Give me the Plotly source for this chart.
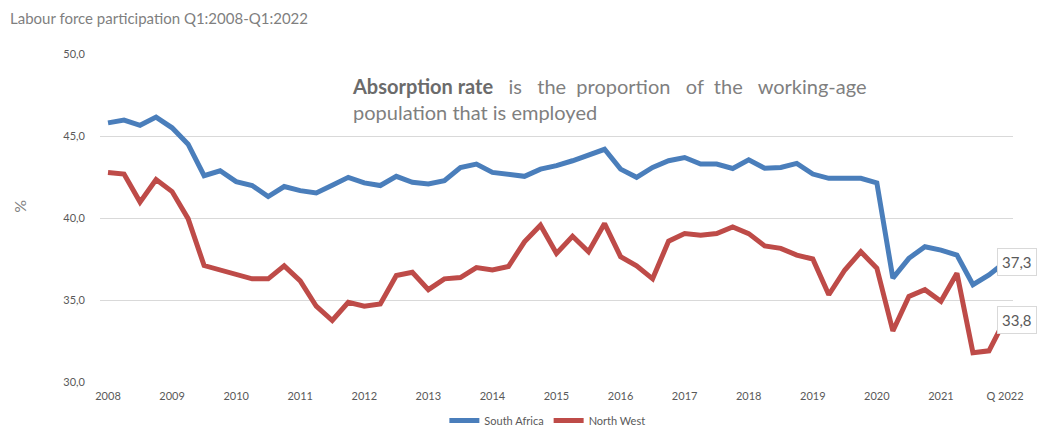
import plotly.graph_objects as go

quarters = [f"Q{q}:{y}" for y in range(2008, 2022) for q in range(1, 5)] + ["Q1:2022"]

south_africa = [45.8, 45.97, 45.65, 46.15, 45.5, 44.5, 42.58, 42.88, 42.22, 41.98,
                41.31, 41.92, 41.67, 41.53, 42.0, 42.48, 42.14, 41.98, 42.54, 42.18,
                42.08, 42.28, 43.08, 43.29, 42.78, 42.64, 42.54, 42.98, 43.19, 43.49,
                43.83, 44.19, 42.98, 42.48, 43.08, 43.49, 43.69, 43.29, 43.29, 43.02,
                43.55, 43.03, 43.08, 43.33, 42.68, 42.42, 42.42, 42.42, 42.14, 36.33,
                37.54, 38.25, 38.04, 37.74, 35.93, 36.53, 37.3]

north_west = [42.78, 42.68, 40.97, 42.34, 41.61, 39.96, 37.10, 36.83, 36.49, 36.29,
              36.29, 37.08, 36.17, 34.62, 33.75, 34.86, 34.62, 34.76, 36.49, 36.69,
              35.63, 36.29, 36.37, 36.98, 36.83, 37.04, 38.55, 39.56, 37.84, 38.89,
              37.94, 39.66, 37.64, 37.08, 36.29, 38.59, 39.05, 38.95, 39.05, 39.46,
              39.05, 38.3, 38.15, 37.74, 37.5, 35.32, 36.83, 37.94, 36.94, 33.11,
              35.22, 35.63, 34.92, 36.63, 31.79, 31.9, 33.8]

tick_labels = ["2008", "2009", "2010", "2011", "2012", "2013", "2014", "2015",
               "2016", "2017", "2018", "2019", "2020", "2021", "Q 2022"]
y_ticks = [30, 35, 40, 45, 50]

BLUE = "#4A7EBB"
RED = "#BE4B48"
GREY = "#7F7F7F"
FONT = "Lato"

fig = go.Figure()
fig.add_trace(go.Scatter(x=quarters, y=south_africa, mode="lines", name="South Africa",
                         line=dict(color=BLUE, width=5)))
fig.add_trace(go.Scatter(x=quarters, y=north_west, mode="lines", name="North West",
                         line=dict(color=RED, width=5)))

def fmt(v):
    return f"{v:.1f}".replace(".", ",")

for series in (south_africa, north_west):
    fig.add_annotation(x=quarters[-1], y=series[-1], xref="x", yref="y",
                       text=fmt(series[-1]), showarrow=False, xanchor="left",
                       yanchor="middle", xshift=-8, bgcolor="white",
                       bordercolor="#D9D9D9", borderwidth=1, borderpad=4,
                       font=dict(family=FONT, size=15, color="#595959"))

fig.add_annotation(x=-0.1008, y=1.11, xref="paper", yref="paper",
                   text="Labour force participation Q1:2008-Q1:2022",
                   showarrow=False, xanchor="left", yanchor="middle",
                   font=dict(family=FONT, size=15, color=GREY))

fig.add_annotation(x=0.2735, y=0.945, xref="paper", yref="paper",
                   text="<b><span style='color:#6b6b6b'>Absorption rate</span></b>   is   the  proportion   of  the   working-age<br>population that is employed",
                   showarrow=False, xanchor="left", yanchor="top", align="left",
                   font=dict(family=FONT, size=20, color=GREY))

fig.add_annotation(x=-0.0876, y=0.534, xref="paper", yref="paper", text="%",
                   showarrow=False, textangle=-90, xanchor="center", yanchor="middle",
                   font=dict(family=FONT, size=16, color=GREY))

fig.update_layout(
    width=1042, height=430,
    margin=dict(l=100, r=29, t=54, b=48, autoexpand=False),
    paper_bgcolor="white", plot_bgcolor="white",
    separators=",.",
    font=dict(family=FONT, color="#595959"),
    showlegend=True,
    legend=dict(orientation="h", x=0.49, xanchor="center", xref="paper",
                y=0.022, yanchor="middle", yref="container",
                font=dict(family=FONT, size=11, color="#595959"),
                itemwidth=30, tracegroupgap=0),
)
fig.update_xaxes(type="category", range=[-0.5, 56.5],
                 tickmode="array", tickvals=quarters[::4], ticktext=tick_labels,
                 showgrid=False, showline=False, ticks="", zeroline=False,
                 ticklabelstandoff=6, automargin=False,
                 tickfont=dict(family=FONT, size=11, color="#595959"))
fig.update_yaxes(range=[30, 50], tickmode="array", tickvals=y_ticks,
                 tickformat=".1f", showgrid=True, gridcolor="#D9D9D9", gridwidth=1,
                 zeroline=False, showline=False, ticks="", ticklabelstandoff=14,
                 automargin=False,
                 tickfont=dict(family=FONT, size=11, color="#595959"))

fig.write_html("out.html")
